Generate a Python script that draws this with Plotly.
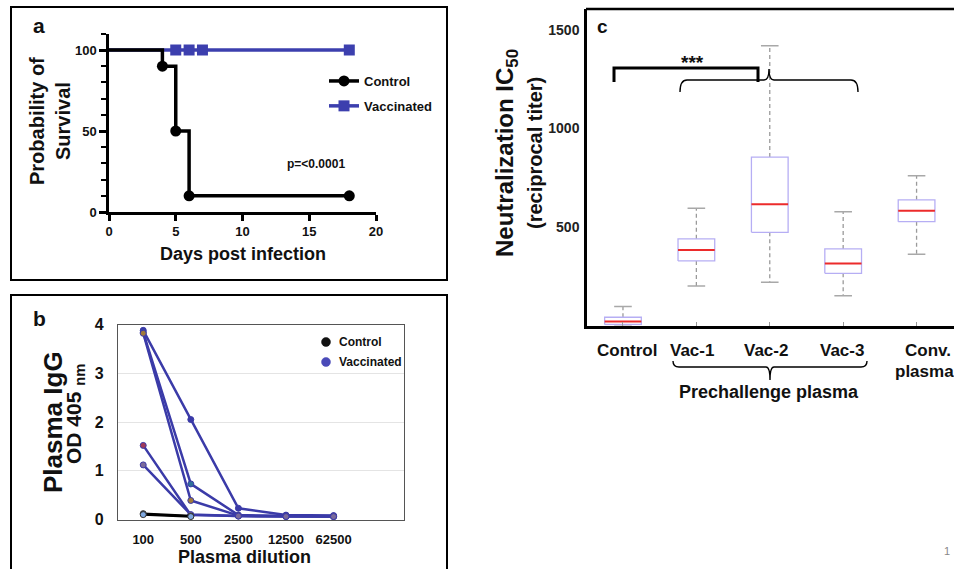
import plotly.graph_objects as go

W, H = 954, 569


def px(x):
    return x / W


def py(y):
    return 1 - y / H


FONT = "Liberation Sans, Arial, sans-serif"
BLUE = "#3c3fae"

# ---------------- Panel a: survival ----------------
days_control = [0, 4, 5, 6, 18]
surv_control = [100, 90, 50, 10, 10]
days_vacc = [0, 5, 6, 7, 18]
surv_vacc = [100, 100, 100, 100, 100]

# ---------------- Panel b: plasma IgG ----------------
dilutions = ["100", "500", "2500", "12500", "62500"]
vacc_od = [
    [3.88, 2.05, 0.23, 0.09, 0.08],
    [3.84, 0.73, 0.09, 0.07, 0.07],
    [3.82, 0.39, 0.08, 0.07, 0.06],
    [1.52, 0.09, 0.07, 0.06, 0.06],
    [1.12, 0.10, 0.07, 0.06, 0.06],
]
vacc_marker_colors = ["#3a3aa8", "#2f6f9a", "#a07a3a", "#a03a5a", "#7a6a9a"]
control_od = [[0.12, 0.07], [0.10, 0.06]]
control_marker_colors = ["#222222", "#7fa8e0"]
legend_b_labels = ["Control", "Vaccinated"]
legend_b_colors = ["#111111", "#4a4ab8"]

# ---------------- Panel c: neutralization ----------------
groups = ["Control", "Vac-1", "Vac-2", "Vac-3", "Conv. plasma"]
whisker_lo = [0, 201, 219, 151, 362]
q1 = [5, 328, 473, 265, 527]
median = [20, 383, 616, 315, 583]
q3 = [42, 440, 855, 389, 638]
whisker_hi = [97, 595, 1420, 577, 760]

fig = go.Figure()

# ---- panel a traces ----
fig.add_trace(go.Scatter(
    x=days_vacc, y=surv_vacc, mode="lines+markers", xaxis="x", yaxis="y",
    line=dict(color=BLUE, width=3.5),
    marker=dict(symbol="square", size=[0] + [11] * (len(days_vacc) - 1), color=BLUE,
                opacity=1, line=dict(width=0)),
    showlegend=False, cliponaxis=False, hoverinfo="x+y"))
fig.add_trace(go.Scatter(
    x=days_control, y=surv_control, mode="lines+markers", xaxis="x", yaxis="y",
    line=dict(color="black", width=3.5, shape="hv"),
    marker=dict(symbol="circle", size=[0] + [11] * (len(days_control) - 1), color="black",
                opacity=1, line=dict(width=0)),
    showlegend=False, cliponaxis=False, hoverinfo="x+y"))
# legend entries a
fig.add_trace(go.Scatter(
    x=[None], y=[None], mode="lines+markers", xaxis="x", yaxis="y",
    line=dict(color="black", width=3.5), marker=dict(symbol="circle", size=11, color="black"),
    name="Control", legend="legend", legendgroup="ac"))
fig.add_trace(go.Scatter(
    x=[None], y=[None], mode="lines+markers", xaxis="x", yaxis="y",
    line=dict(color=BLUE, width=3.5), marker=dict(symbol="square", size=11, color=BLUE),
    name="Vaccinated", legend="legend", legendgroup="av"))

# ---- panel b traces ----
for vals, mc in zip(vacc_od, vacc_marker_colors):
    fig.add_trace(go.Scatter(
        x=dilutions, y=vals, mode="lines+markers", xaxis="x2", yaxis="y2",
        line=dict(color="#3b3ba8", width=2.5),
        marker=dict(size=6, color=mc, line=dict(color="#3b3ba8", width=1)),
        showlegend=False, cliponaxis=False))
for vals, mc in zip(control_od, control_marker_colors):
    fig.add_trace(go.Scatter(
        x=dilutions[:len(vals)], y=vals, mode="lines+markers", xaxis="x2", yaxis="y2",
        line=dict(color="black", width=2.5),
        marker=dict(size=6, color=mc, line=dict(color="#333", width=1)),
        showlegend=False, cliponaxis=False))

# ---- panel c traces (box plots built from the stats) ----
bw = 0.25
cw = 0.12
box_x, box_y, med_x, med_y, wh_x, wh_y, cap_x, cap_y = [], [], [], [], [], [], [], []
for i in range(len(groups)):
    box_x += [i - bw, i + bw, i + bw, i - bw, i - bw, None]
    box_y += [q1[i], q1[i], q3[i], q3[i], q1[i], None]
    med_x += [i - bw, i + bw, None]
    med_y += [median[i], median[i], None]
    wh_x += [i, i, None, i, i, None]
    wh_y += [q3[i], whisker_hi[i], None, q1[i], whisker_lo[i], None]
    cap_x += [i - cw, i + cw, None, i - cw, i + cw, None]
    cap_y += [whisker_hi[i], whisker_hi[i], None, whisker_lo[i], whisker_lo[i], None]

fig.add_trace(go.Scatter(x=wh_x, y=wh_y, mode="lines", xaxis="x3", yaxis="y3",
                         line=dict(color="#9a9a9a", width=1.3, dash="4px,3px"),
                         showlegend=False, hoverinfo="skip"))
fig.add_trace(go.Scatter(x=cap_x, y=cap_y, mode="lines", xaxis="x3", yaxis="y3",
                         line=dict(color="#a8a8a8", width=1.5), showlegend=False, hoverinfo="skip"))
fig.add_trace(go.Scatter(x=box_x, y=box_y, mode="lines", xaxis="x3", yaxis="y3",
                         line=dict(color="#b6aef4", width=1.3), showlegend=False, hoverinfo="skip"))
fig.add_trace(go.Scatter(x=med_x, y=med_y, mode="lines", xaxis="x3", yaxis="y3",
                         line=dict(color="#ec2b2b", width=2), showlegend=False, hoverinfo="skip"))

tick_font_a = dict(family=FONT, size=13, color="#111", weight="bold")

fig.update_layout(
    template="none",
    width=W, height=H, margin=dict(l=0, r=0, t=0, b=0, pad=0, autoexpand=False),
    paper_bgcolor="white", plot_bgcolor="rgba(0,0,0,0)",
    font=dict(family=FONT, color="#111"),
    xaxis=dict(domain=[px(109), px(376)], anchor="y", range=[0, 20], tickvals=[0, 5, 10, 15, 20],
               showline=True, linecolor="black", linewidth=2.5, ticks="outside", ticklen=6,
               tickwidth=2.5, tickcolor="black", showgrid=False, zeroline=False, automargin=False,
               ticklabelstandoff=0, tickfont=tick_font_a),
    yaxis=dict(domain=[py(212), py(33.8)], anchor="x", range=[0, 110], tickvals=[0, 50, 100],
               showline=True, linecolor="black", linewidth=2.5, ticks="outside", ticklen=7,
               tickwidth=2.5, tickcolor="black", showgrid=False, zeroline=False, automargin=False,
               minor=dict(tickvals=list(range(10, 111, 10)), ticks="outside", ticklen=5,
                          tickwidth=2, tickcolor="black"),
               tickfont=tick_font_a),
    xaxis2=dict(type="category", domain=[px(118), px(404)], anchor="y2", range=[-0.53, 5.48],
                showline=True, mirror=True, linecolor="#555", linewidth=1.3, ticks="",
                showgrid=False, zeroline=False, ticklabelstandoff=8, automargin=False,
                tickfont=dict(family=FONT, size=13, color="#111", weight="bold")),
    yaxis2=dict(domain=[py(519.5), py(324.5)], anchor="x2", range=[0, 4], tickvals=[0, 1, 2, 3, 4],
                showline=True, mirror=True, linecolor="#555", linewidth=1.3, ticks="",
                showgrid=True, gridcolor="#e4e4e4", gridwidth=1.2, zeroline=False,
                ticklabelstandoff=10, automargin=False,
                tickfont=dict(family=FONT, size=16, color="#111", weight="bold")),
    xaxis3=dict(domain=[px(587), 1.0], anchor="y3", range=[-0.49, 4.51], tickvals=[0, 1, 2, 3, 4],
                showticklabels=False, showline=True, linecolor="black", linewidth=2.5,
                ticks="inside", ticklen=4, tickcolor="#999", tickwidth=1,
                showgrid=False, zeroline=False, automargin=False),
    yaxis3=dict(domain=[py(325.5), py(9)], anchor="x3", range=[0, 1607], tickvals=[500, 1000, 1500],
                showline=True, linecolor="black", linewidth=2.5, ticks="", showgrid=False,
                zeroline=False, ticklabelstandoff=2, automargin=False,
                tickfont=dict(family=FONT, size=14, color="#222", weight="bold")),
    legend=dict(x=px(324), y=py(66), xanchor="left", yanchor="top", bgcolor="rgba(0,0,0,0)",
                font=dict(family=FONT, size=13, color="#111", weight="bold"),
                itemwidth=30, traceorder="grouped", tracegroupgap=5),
)

shapes = []
# panel frames
shapes.append(dict(type="rect", xref="paper", yref="paper", x0=px(11), x1=px(447), y0=py(280), y1=py(7),
                   line=dict(color="black", width=2)))
shapes.append(dict(type="rect", xref="paper", yref="paper", x0=px(11), x1=px(447), y0=py(620), y1=py(295),
                   line=dict(color="black", width=2)))
# panel c top frame line
shapes.append(dict(type="line", xref="paper", yref="paper", x0=px(586), x1=1.01, y0=py(9), y1=py(9),
                   line=dict(color="black", width=2.5)))


def path(points):
    s = ""
    for cmd, pts in points:
        s += cmd + " ".join(f"{px(x):.5f},{py(y):.5f}" for x, y in pts) + " "
    return s.strip()


# significance bracket (thick)
shapes.append(dict(type="path", xref="paper", yref="paper",
                   path=path([("M", [(614, 82)]), ("L", [(614, 68)]), ("L", [(758, 68)]), ("L", [(758, 82)])]),
                   line=dict(color="black", width=3)))
# curly brace above Vac groups
shapes.append(dict(type="path", xref="paper", yref="paper",
                   path=path([("M", [(680, 92)]), ("Q", [(680, 80), (687, 80)]), ("L", [(764, 80)]),
                              ("Q", [(769, 80), (769, 69)]), ("Q", [(769, 80), (774, 80)]),
                              ("L", [(851, 80)]), ("Q", [(858, 80), (858, 92)])]),
                   line=dict(color="black", width=1.4)))
# brace below Vac labels
shapes.append(dict(type="path", xref="paper", yref="paper",
                   path=path([("M", [(673, 361)]), ("Q", [(673, 367), (679, 367)]), ("L", [(766, 367)]),
                              ("Q", [(770, 367), (770, 380)]), ("Q", [(770, 367), (774, 367)]),
                              ("L", [(861, 367)]), ("Q", [(867, 367), (867, 361)])]),
                   line=dict(color="black", width=1.4)))

ann = []


def A(text, x, y, size, angle=0, xanchor="center", yanchor="middle", color="#111", bold=True):
    ann.append(dict(text=f"<b>{text}</b>" if bold else text, x=px(x), y=py(y), xref="paper", yref="paper",
                    showarrow=False, textangle=angle, xanchor=xanchor, yanchor=yanchor,
                    font=dict(family=FONT, size=size, color=color)))


# panel b legend (dot + label)
for k, (lab, col) in enumerate(zip(legend_b_labels, legend_b_colors)):
    cy = 342 + 20 * k
    shapes.append(dict(type="circle", xref="paper", yref="paper",
                       x0=px(321.5), x1=px(330.5), y0=py(cy + 4.5), y1=py(cy - 4.5),
                       fillcolor=col, line=dict(color=col, width=0.5)))
    A(lab, 337, cy, 12, xanchor="left")

fig.update_layout(shapes=shapes)

# panel letters
A("a", 39, 25, 21)
A("b", 39, 318, 21)
A("c", 602, 27, 19)
# panel a texts
A("Probability of<br>Survival", 50, 121, 20, angle=-90)
A("Days post infection", 243, 254, 18)
A("p=&lt;0.0001", 316, 164, 12)
# panel b texts
A("Plasma IgG", 53, 422, 26, angle=-90)
A("OD 405 <sub>nm</sub>", 75, 414, 21, angle=-90)
A("Plasma dilution", 244, 557, 18)
# panel c texts
A("Neutralization IC<sub>50</sub>", 507, 153, 24, angle=-90)
A("(reciprocal titer)", 535, 153, 20, angle=-90)
cat_label_x = [0.05, 0.94, 1.95, 2.98]
for gx, lab in zip(cat_label_x, groups[:4]):
    ann.append(dict(text=f"<b>{lab}</b>", x=gx, y=py(350), xref="x3", yref="paper", showarrow=False,
                    xanchor="center", yanchor="middle", font=dict(family=FONT, size=17, color="#111")))
conv_first, conv_second = groups[4].split(" ")
A(conv_first, 903, 350, 17, xanchor="left")
A(conv_second, 893, 371, 17, xanchor="left")
A("***", 692, 63, 19)
A("Prechallenge plasma", 769, 392, 18)
A("1", 947, 551, 11, color="#888", bold=False)
fig.update_layout(annotations=ann)

# remove the default 8px page margin so the figure fills the window exactly
fig.write_html("out.html", config={"displayModeBar": False},
               post_script="document.body.style.margin='0';document.body.style.overflow='hidden';")
